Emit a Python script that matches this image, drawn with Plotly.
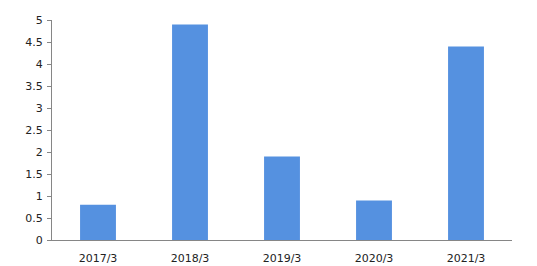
import plotly.graph_objects as go

categories = ["2017/3", "2018/3", "2019/3", "2020/3", "2021/3"]
values = [0.8, 4.9, 1.9, 0.9, 4.4]
y_ticks = [0, 0.5, 1, 1.5, 2, 2.5, 3, 3.5, 4, 4.5, 5]
y_tick_labels = ["0", "0.5", "1", "1.5", "2", "2.5", "3", "3.5", "4", "4.5", "5"]

fig = go.Figure(go.Bar(x=categories, y=values, marker=dict(color="#5591E0", line=dict(width=0)), width=0.39))
fig.update_layout(
    width=537, height=266,
    margin=dict(l=52, r=25, t=20, b=26),
    plot_bgcolor="white", paper_bgcolor="white",
    font=dict(family="DejaVu Sans, Verdana", size=11, color="#222222"),
    showlegend=False,
)
fig.update_xaxes(showline=True, linecolor="#868686", linewidth=1, ticks="", showgrid=False,
                 ticklabelstandoff=8, automargin=False)
fig.update_yaxes(range=[0, 5], tickvals=y_ticks, ticktext=y_tick_labels, showline=True, linecolor="#868686",
                 linewidth=1, ticks="outside", ticklen=4, tickcolor="#868686", showgrid=False, zeroline=False,
                 ticklabelstandoff=2, automargin=False)
fig.write_html("out.html")
